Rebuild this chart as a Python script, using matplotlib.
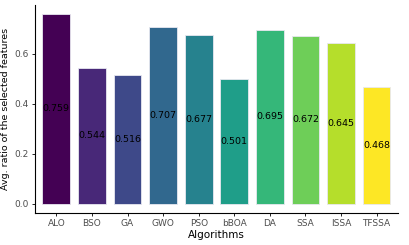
import matplotlib
matplotlib.use("Agg")
import matplotlib.pyplot as plt
import numpy as np

# Avg. ratio of selected features per algorithm
algorithms = ["ALO", "BSO", "GA", "GWO", "PSO", "bBOA", "DA", "SSA", "ISSA", "TFSSA"]
ratios = [0.759, 0.544, 0.516, 0.707, 0.677, 0.501, 0.695, 0.672, 0.645, 0.468]

fig = plt.figure(figsize=(4.09, 2.45), dpi=100)
ax = fig.add_axes([0.0856, 0.1306, 0.8874, 0.8494])

x = np.arange(len(algorithms))
colors = plt.cm.viridis(np.linspace(0, 1, len(algorithms)))
ax.bar(x, ratios, width=0.78, color=colors, edgecolor="#e8e8f0", linewidth=0.6)

# value labels at the middle of each bar
for xi, v in zip(x, ratios):
    ax.text(xi, v / 2, f"{v:.3f}", ha="center", va="center", fontsize=6.8, color="black")

ax.set_xlim(-0.6, len(algorithms) - 0.4)
ax.set_ylim(-0.038, 0.797)
ax.set_xticks(x)
ax.set_xticklabels(algorithms)
ax.set_yticks([0.0, 0.2, 0.4, 0.6])
ax.set_yticklabels(["0.0", "0.2", "0.4", "0.6"])
ax.tick_params(labelsize=6.5, labelcolor="#4d4d4d", color="black", length=2.5, width=0.6, pad=2)

for side in ["top", "right"]:
    ax.spines[side].set_visible(False)
for side in ["left", "bottom"]:
    ax.spines[side].set_linewidth(0.8)

ax.set_xlabel("Algorithms", fontsize=7.5, labelpad=1)
ax.set_ylabel("Avg. ratio of the selected features", fontsize=6.8, labelpad=3)

fig.savefig("out.png", dpi=100)
